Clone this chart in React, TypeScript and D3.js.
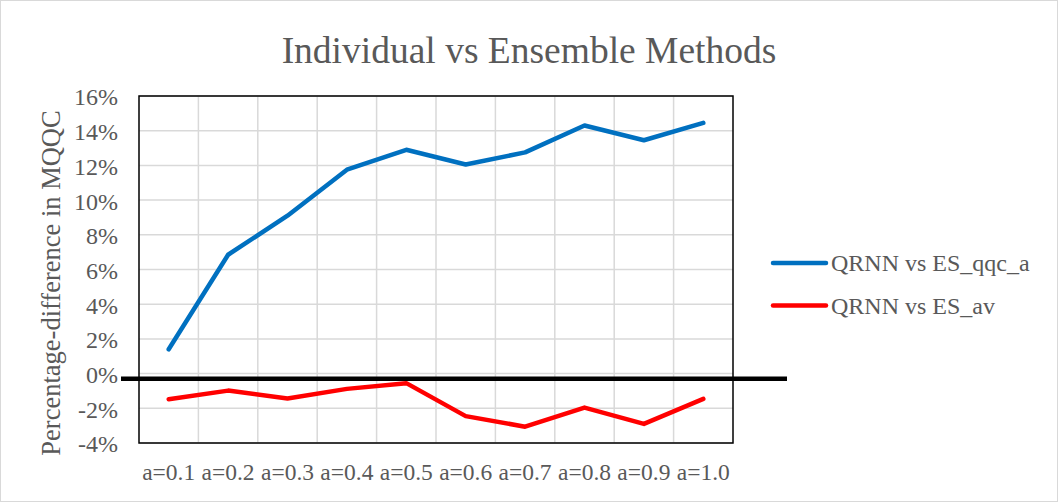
import React, { useEffect, useRef } from 'react';
import * as d3 from 'd3';

const categories = ['a=0.1', 'a=0.2', 'a=0.3', 'a=0.4', 'a=0.5', 'a=0.6', 'a=0.7', 'a=0.8', 'a=0.9', 'a=1.0'];
const qqcValues = [1.4, 6.85, 9.1, 11.75, 12.9, 12.05, 12.75, 14.3, 13.45, 14.45];
const avValues = [-1.48, -0.98, -1.43, -0.88, -0.55, -2.45, -3.06, -1.96, -2.9, -1.46];
const yTicks = [-4, -2, 0, 2, 4, 6, 8, 10, 12, 14, 16];
const seriesNames = ['QRNN vs ES_qqc_a', 'QRNN vs ES_av'];
const seriesColors = ['#0070C0', '#FF0000'];
const refLineValue = -0.3;

export default function App() {
  const svgRef = useRef<SVGSVGElement>(null);

  useEffect(() => {
    document.body.style.margin = '0';
    if (!svgRef.current) return;
    const svg = d3.select(svgRef.current);
    svg.selectAll('*').remove();

    const width = 1058;
    const height = 502;
    const plot = { left: 139, right: 733, top: 96, bottom: 443 };
    const font = '"Liberation Serif", "Times New Roman", serif';
    const textColor = '#595959';

    svg.attr('width', width).attr('height', height);

    svg.append('rect')
      .attr('x', 0.5).attr('y', 0.5)
      .attr('width', width - 1).attr('height', height - 1)
      .attr('fill', '#fff')
      .attr('stroke', '#d9d9d9');

    const x = d3.scaleBand<string>()
      .domain(categories)
      .range([plot.left, plot.right]);

    const y = d3.scaleLinear()
      .domain([-4, 16])
      .range([plot.bottom, plot.top]);

    // gridlines
    const grid = svg.append('g');
    yTicks.forEach(t => {
      grid.append('line')
        .attr('x1', plot.left).attr('x2', plot.right)
        .attr('y1', y(t)).attr('y2', y(t))
        .attr('stroke', '#d9d9d9').attr('stroke-width', 1.5);
    });
    categories.forEach((c, i) => {
      if (i === 0) return;
      grid.append('line')
        .attr('x1', x(c)!).attr('x2', x(c)!)
        .attr('y1', plot.top).attr('y2', plot.bottom)
        .attr('stroke', '#d9d9d9').attr('stroke-width', 1.5);
    });

    // plot border
    svg.append('rect')
      .attr('x', plot.left).attr('y', plot.top)
      .attr('width', plot.right - plot.left)
      .attr('height', plot.bottom - plot.top)
      .attr('fill', 'none')
      .attr('stroke', '#000')
      .attr('stroke-width', 1.5);

    // y tick labels
    yTicks.forEach(t => {
      svg.append('text')
        .attr('x', 118)
        .attr('y', y(t) + 1)
        .attr('dy', '0.35em')
        .attr('text-anchor', 'end')
        .attr('font-family', font)
        .attr('font-size', 24)
        .attr('fill', textColor)
        .text(`${t}%`);
    });

    // x labels
    categories.forEach(c => {
      svg.append('text')
        .attr('x', x(c)! + x.bandwidth() / 2)
        .attr('y', 480)
        .attr('text-anchor', 'middle')
        .attr('font-family', font)
        .attr('font-size', 23.5)
        .attr('fill', textColor)
        .text(c);
    });

    // title
    svg.append('text')
      .attr('x', 529)
      .attr('y', 63)
      .attr('text-anchor', 'middle')
      .attr('font-family', font)
      .attr('font-size', 37.5)
      .attr('fill', textColor)
      .text('Individual vs Ensemble Methods');

    // y axis title
    svg.append('text')
      .attr('transform', 'translate(60, 283) rotate(-90)')
      .attr('text-anchor', 'middle')
      .attr('font-family', font)
      .attr('font-size', 26.5)
      .attr('fill', textColor)
      .text('Percentage-difference in MQQC');

    // series lines
    const line = d3.line<number>()
      .x((_, i) => x(categories[i])! + x.bandwidth() / 2)
      .y(d => y(d));

    [qqcValues, avValues].forEach((vals, i) => {
      svg.append('path')
        .datum(vals)
        .attr('d', line)
        .attr('fill', 'none')
        .attr('stroke', seriesColors[i])
        .attr('stroke-width', 4.5)
        .attr('stroke-linecap', 'round')
        .attr('stroke-linejoin', 'round');
    });

    // thick black reference line near zero
    svg.append('line')
      .attr('x1', 121).attr('x2', 787)
      .attr('y1', y(refLineValue)).attr('y2', y(refLineValue))
      .attr('stroke', '#000')
      .attr('stroke-width', 4.5);

    // legend
    const legendY = [263, 305.5];
    seriesNames.forEach((name, i) => {
      svg.append('line')
        .attr('x1', 773).attr('x2', 826)
        .attr('y1', legendY[i]).attr('y2', legendY[i])
        .attr('stroke', seriesColors[i])
        .attr('stroke-width', 4.5)
        .attr('stroke-linecap', 'round');
      svg.append('text')
        .attr('x', 831)
        .attr('y', legendY[i])
        .attr('dy', '0.35em')
        .attr('font-family', font)
        .attr('font-size', 24)
        .attr('fill', textColor)
        .text(name);
    });
  }, []);

  return <svg ref={svgRef} style={{ display: 'block' }}></svg>;
}
